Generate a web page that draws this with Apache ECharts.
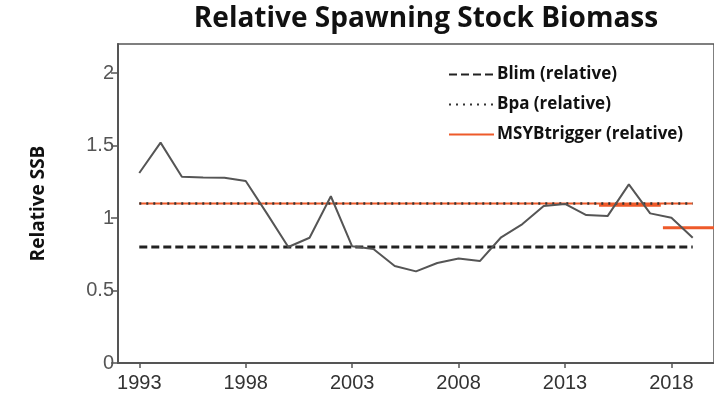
<!DOCTYPE html>
<html>
<head>
<meta charset="utf-8">
<script src="https://cdn.jsdelivr.net/npm/echarts@6/dist/echarts.min.js"></script>
<style>html,body{margin:0;padding:0;background:#fff}#c{width:714px;height:404px}</style>
</head>
<body>
<div id="c"></div>
<script>
var years = [1993,1994,1995,1996,1997,1998,1999,2000,2001,2002,2003,2004,2005,2006,2007,2008,2009,2010,2011,2012,2013,2014,2015,2016,2017,2018,2019];
var ssb = [1.31,1.52,1.285,1.28,1.278,1.255,1.03,0.80,0.864,1.15,0.805,0.786,0.669,0.632,0.69,0.72,0.703,0.867,0.958,1.083,1.097,1.02,1.013,1.232,1.032,1.002,0.864];
var blim = [[1993,0.8],[2019,0.8]];
var bpa = [[1993,1.1],[2019,1.1]];
var msy1 = [[1993,1.1],[2019,1.1]];
var msy2 = [[2014.6,1.088],[2017.5,1.088]];
var msy3 = [[2017.6,0.933],[2020,0.933]];
var xTicks = [1993,1998,2003,2008,2013,2018];
var yTicks = [0,0.5,1,1.5,2];

var chart = echarts.init(document.getElementById('c'));
var ssbData = years.map(function(y,i){return [y, ssb[i]];});
chart.setOption({
  animation:false,
  title:{text:'Relative Spawning Stock Biomass', left:421, textAlign:'center', top:0,
    textStyle:{fontFamily:'Open Sans', fontWeight:'bold', fontSize:28, color:'#111'}},
  legend:{
    orient:'vertical', left:443, top:61, itemWidth:45, itemHeight:14, itemGap:13,
    data:['Blim (relative)','Bpa (relative)','MSYBtrigger (relative)'],
    itemStyle:{opacity:0},
    textStyle:{fontFamily:'Open Sans', fontWeight:'bold', fontSize:17, color:'#111', lineHeight:17, padding:[0,0,0,-2]}
  },
  grid:{left:118, top:44, width:610, height:319, show:true, borderColor:'#555', borderWidth:1.5, backgroundColor:'transparent'},
  xAxis:{
    type:'value', min:1992, max:2020,
    axisLine:{show:true, lineStyle:{color:'#555', width:2}},
    axisTick:{show:true, length:5, customValues:xTicks, lineStyle:{color:'#555', width:1.5}},
    axisLabel:{customValues:xTicks, fontFamily:'Liberation Sans', fontSize:20, color:'#333', margin:10,
      formatter:function(v){return String(v);}},
    splitLine:{show:false}
  },
  yAxis:{
    type:'value', min:0, max:2.2,
    name:'Relative SSB', nameLocation:'middle', nameRotate:90, nameGap:70,
    nameTextStyle:{fontFamily:'Open Sans', fontWeight:'bold', fontSize:19, color:'#111'},
    axisLine:{show:true, lineStyle:{color:'#555', width:2}},
    axisTick:{show:true, length:7, customValues:yTicks, lineStyle:{color:'#555', width:1.5}},
    axisLabel:{customValues:yTicks, fontFamily:'Liberation Sans', fontSize:20, color:'#555', margin:4,
      formatter:function(v){return String(v);}},
    splitLine:{show:false}
  },
  series:[
    {name:'MSYBtrigger (relative)', type:'line', data:msy1, symbol:'none', lineStyle:{color:'#ee5a2a', width:2}, itemStyle:{color:'#ee5a2a'}, z:2, silent:true},
    {name:'MSYBtrigger (relative)', type:'line', data:msy2, symbol:'none', lineStyle:{color:'#ee5a2a', width:3}, itemStyle:{color:'#ee5a2a'}, z:2, silent:true},
    {name:'MSYBtrigger (relative)', type:'line', data:msy3, symbol:'none', lineStyle:{color:'#ee5a2a', width:3}, itemStyle:{color:'#ee5a2a'}, z:2, silent:true},
    {name:'Blim (relative)', type:'line', data:blim, symbol:'none', lineStyle:{color:'#222', width:3, type:[8,4]}, itemStyle:{color:'#222'}, z:3},
    {name:'Bpa (relative)', type:'line', data:bpa, symbol:'none', lineStyle:{color:'#333', width:2.5, type:[2,5]}, itemStyle:{color:'#333'}, z:3},
    {name:'SSB', type:'line', data:ssbData, symbol:'none', lineStyle:{color:'#555', width:2}, itemStyle:{color:'#555'}, z:4}
  ]
});
</script>
</body>
</html>
